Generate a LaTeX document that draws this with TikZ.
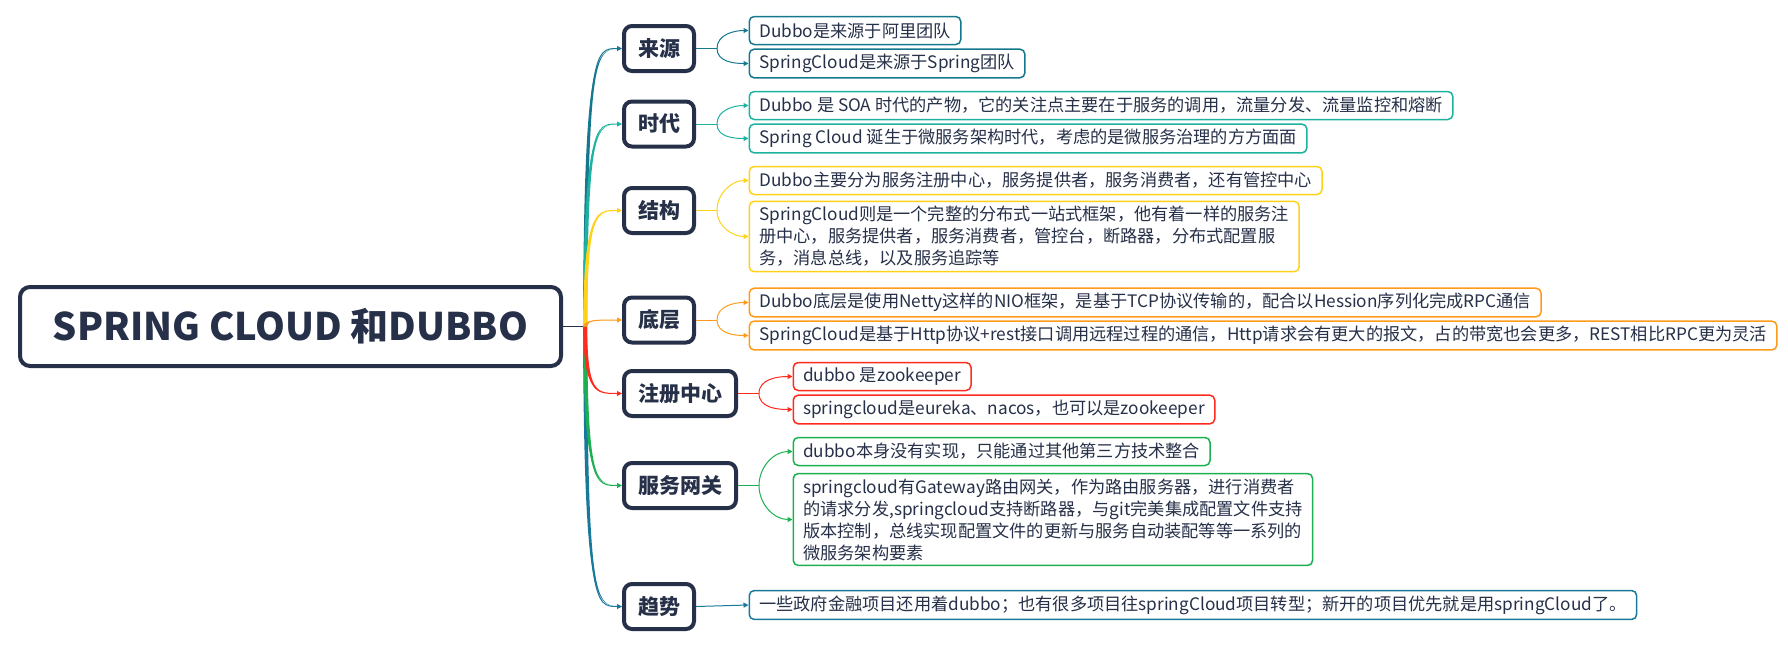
\documentclass[tikz,border=0pt]{standalone}
\usepackage{fontspec}
\setmainfont{Noto Sans CJK SC}
\usepackage{xcolor}
\usepackage{tikz}
\usetikzlibrary{arrows.meta}

\definecolor{navy}{HTML}{263048}
\definecolor{yuanC}{HTML}{16788F}
\definecolor{shiC}{HTML}{1DB2A0}
\definecolor{jieC}{HTML}{FFD21A}
\definecolor{diC}{HTML}{FF9B1A}
\definecolor{zhuC}{HTML}{FF2B1C}
\definecolor{fuC}{HTML}{1DB052}
\definecolor{quC}{HTML}{19799A}

\begin{document}
\begin{tikzpicture}[x=0.5pt, y=-0.5pt,
    >={Triangle[length=2.5pt,width=2.5pt]},
    rootbox/.style={draw=navy, line width=2pt, rounded corners=5pt, minimum width=270.5pt,
        minimum height=39.5pt, text=navy, font=\fontsize{19}{23}\selectfont\bfseries},
    topic/.style={draw=navy, line width=2pt, rounded corners=4pt, anchor=west, minimum height=22.5pt,
        inner xsep=7pt, text=navy, font=\fontsize{10.5}{12}\selectfont\bfseries},
    leaf/.style={line width=0.75pt, rounded corners=2.5pt, anchor=west, align=left, minimum height=14pt,
        inner xsep=5pt, inner ysep=2.5pt, text=navy, fill=white, font=\fontsize{8.6}{11}\selectfont},
    twig/.style={line width=0.5pt},
    trunk/.style={to path={([xshift=-1pt]\tikztostart)
        .. controls ([xshift=-0.5pt]\tikztostart |- \tikztotarget) and ([xshift=5pt]\tikztostart |- \tikztotarget) .. (\tikztotarget)
        .. controls ([xshift=5pt]\tikztostart |- \tikztotarget) and ([xshift=1.5pt]\tikztostart |- \tikztotarget) .. ([xshift=1pt]\tikztostart) -- cycle}},
    stem/.style={line width=0.5pt, to path={.. controls ([xshift=0.5pt]\tikztostart |- \tikztotarget) and ([xshift=5pt]\tikztostart |- \tikztotarget) .. (\tikztotarget)}}]
    \useasboundingbox (0,0) rectangle (1788,648);

    % root and main topics
    \node[rootbox] (root) at (290.5,326.5) {SPRING CLOUD 和DUBBO};
    \node[topic] (yuan) at (622,48.5) {来源};
    \node[topic] (shi) at (622,124) {时代};
    \node[topic] (jie) at (622,210.5) {结构};
    \node[topic] (di) at (622,320) {底层};
    \node[topic] (zhu) at (622,393.5) {注册中心};
    \node[topic] (fu) at (622,485.5) {服务网关};
    \node[topic] (qu) at (622,606.5) {趋势};

    \draw[navy, line width=0.75pt] (root.east) -- ++(22,0) coordinate (bp);
    \fill[yuanC, trunk] (bp) to (yuan.west);
    \draw[yuanC, stem, ->] (bp) to (yuan.west);
    \fill[shiC, trunk] (bp) to (shi.west);
    \draw[shiC, stem, ->] (bp) to (shi.west);
    \fill[jieC, trunk] (bp) to (jie.west);
    \draw[jieC, stem, ->] (bp) to (jie.west);
    \fill[quC, trunk] (bp) to (qu.west);
    \draw[quC, stem, ->] (bp) to (qu.west);
    \fill[fuC, trunk] (bp) to (fu.west);
    \draw[fuC, stem, ->] (bp) to (fu.west);
    \fill[zhuC, trunk] (bp) to (zhu.west);
    \draw[zhuC, stem, ->] (bp) to (zhu.west);
    \fill[diC, trunk] (bp) to (di.west);
    \draw[diC, stem, ->] (bp) to (di.west);

    % leaves
    \node[leaf, draw=yuanC] (yuanA) at (748.5,30.5) {Dubbo是来源于阿里团队};
    \node[leaf, draw=yuanC] (yuanB) at (748.5,63.5) {SpringCloud是来源于Spring团队};
    \node[leaf, draw=shiC] (shiA) at (748.5,105.5) {Dubbo 是 SOA 时代的产物，它的关注点主要在于服务的调用，流量分发、流量监控和熔断};
    \node[leaf, draw=shiC] (shiB) at (748.5,138.5) {Spring Cloud 诞生于微服务架构时代，考虑的是微服务治理的方方面面};
    \node[leaf, draw=jieC] (jieA) at (748.5,180.5) {Dubbo主要分为服务注册中心，服务提供者，服务消费者，还有管控中心};
    \node[leaf, draw=jieC] (jieB) at (748.5,236.5) {SpringCloud则是一个完整的分布式一站式框架，他有着一样的服务注\\
        册中心，服务提供者，服务消费者，管控台，断路器，分布式配置服\\务，消息总线，以及服务追踪等};
    \node[leaf, draw=diC] (diA) at (748.5,302.5) {Dubbo底层是使用Netty这样的NIO框架，是基于TCP协议传输的，配合以Hession序列化完成RPC通信};
    \node[leaf, draw=diC] (diB) at (748.5,335.5) {SpringCloud是基于Http协议+rest接口调用远程过程的通信，Http请求会有更大的报文，占的带宽也会更多，REST相比RPC更为灵活};
    \node[leaf, draw=zhuC] (zhuA) at (792.5,376.5) {dubbo 是zookeeper};
    \node[leaf, draw=zhuC] (zhuB) at (792.5,409.5) {springcloud是eureka、nacos，也可以是zookeeper};
    \node[leaf, draw=fuC] (fuA) at (792.5,451.5) {dubbo本身没有实现，只能通过其他第三方技术整合};
    \node[leaf, draw=fuC] (fuB) at (792.5,519.5) {springcloud有Gateway路由网关，作为路由服务器，进行消费者\\
        的请求分发,springcloud支持断路器，与git完美集成配置文件支持\\版本控制，总线实现配置文件的更新与服务自动装配等等一系列的\\微服务架构要素};
    \node[leaf, draw=quC] (quA) at (748.5,605) {一些政府金融项目还用着dubbo；也有很多项目往springCloud项目转型；新开的项目优先就是用springCloud了。};

    % branches to leaves
    \draw[yuanC, twig] (yuan.east) -- ++(21,0) coordinate (yuanJ);
    \draw[yuanC, twig, ->] (yuanJ) to[out=90, in=180] (yuanA.west);
    \draw[yuanC, twig, ->] (yuanJ) to[out=-90, in=180] (yuanB.west);
    \draw[shiC, twig] (shi.east) -- ++(21,0) coordinate (shiJ);
    \draw[shiC, twig, ->] (shiJ) to[out=90, in=180] (shiA.west);
    \draw[shiC, twig, ->] (shiJ) to[out=-90, in=180] (shiB.west);
    \draw[jieC, twig] (jie.east) -- ++(21,0) coordinate (jieJ);
    \draw[jieC, twig, ->] (jieJ) to[out=90, in=180] (jieA.west);
    \draw[jieC, twig, ->] (jieJ) to[out=-90, in=180] (jieB.west);
    \draw[diC, twig] (di.east) -- ++(21,0) coordinate (diJ);
    \draw[diC, twig, ->] (diJ) to[out=90, in=180] (diA.west);
    \draw[diC, twig, ->] (diJ) to[out=-90, in=180] (diB.west);
    \draw[zhuC, twig] (zhu.east) -- ++(21,0) coordinate (zhuJ);
    \draw[zhuC, twig, ->] (zhuJ) to[out=90, in=180] (zhuA.west);
    \draw[zhuC, twig, ->] (zhuJ) to[out=-90, in=180] (zhuB.west);
    \draw[fuC, twig] (fu.east) -- ++(21,0) coordinate (fuJ);
    \draw[fuC, twig, ->] (fuJ) to[out=90, in=180] (fuA.west);
    \draw[fuC, twig, ->] (fuJ) to[out=-90, in=180] (fuB.west);
    \draw[quC, twig, ->] (qu.east) -- (quA.west);
\end{tikzpicture}
\end{document}
